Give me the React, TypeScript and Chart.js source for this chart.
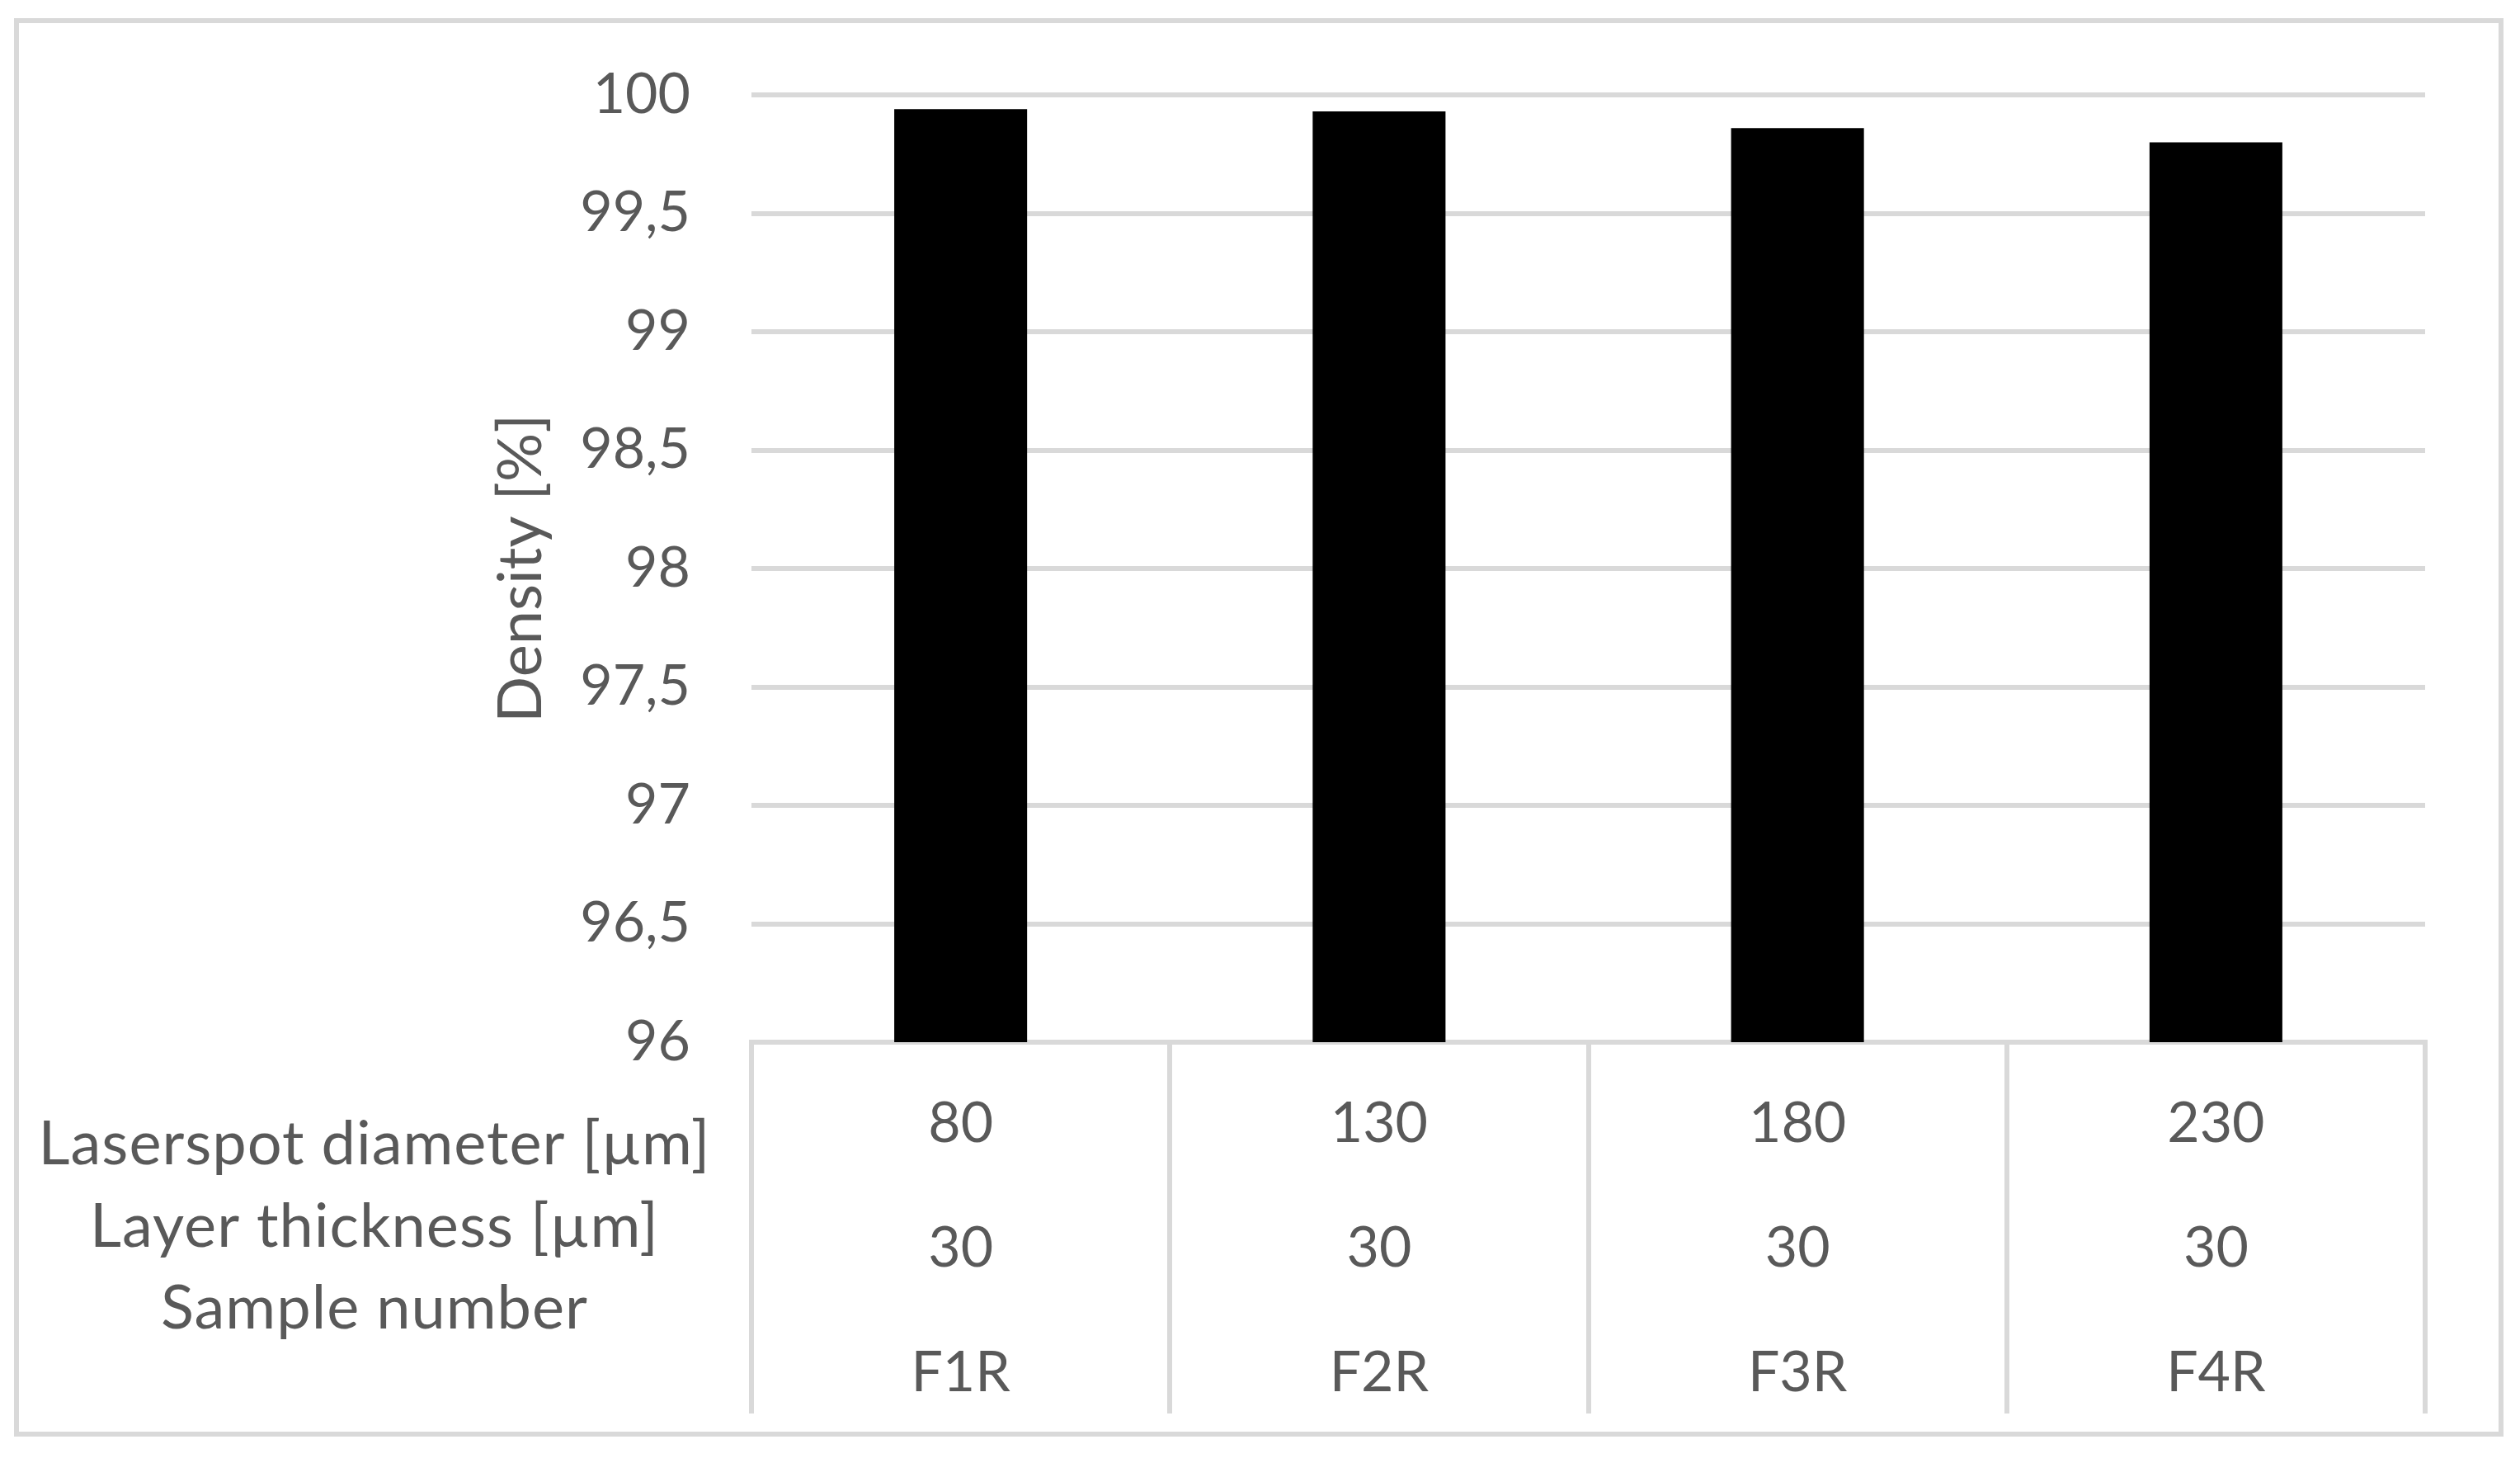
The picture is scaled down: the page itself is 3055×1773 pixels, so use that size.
import React, { useEffect, useRef } from "react";
import { Chart, registerables } from "chart.js";

Chart.register(...registerables);

// ---- data ----
const sampleNumbers = ["F1R", "F2R", "F3R", "F4R"];
const laserspotDiameter = ["80", "130", "180", "230"];
const layerThickness = ["30", "30", "30", "30"];
const density = [99.94, 99.93, 99.86, 99.8];
const rowHeaders = ["Laserspot diameter [µm]", "Layer thickness [µm]", "Sample number"];
const yAxisTitle = "Density [%]";
const yMin = 96;
const yMax = 100;
const yStep = 0.5;

const W = 3055;
const H = 1773;
const FONT = "Lato";
const TEXT = "#595959";
const LINE = "#d9d9d9";

export default function App() {
  const ref = useRef<HTMLCanvasElement | null>(null);

  useEffect(() => {
    let chart: Chart | null = null;
    let cancelled = false;

    const frameAndHeaders = {
      id: "frameAndHeaders",
      beforeDraw(c: any) {
        const ctx = c.ctx;
        ctx.save();
        ctx.fillStyle = "#ffffff";
        ctx.fillRect(0, 0, c.width, c.height);
        ctx.restore();
      },
      afterDraw(c: any) {
        const ctx = c.ctx;
        ctx.save();
        // outer chart frame
        ctx.strokeStyle = LINE;
        ctx.lineWidth = 6;
        ctx.strokeRect(20, 25, 3012, 1713);
        // row headers of the category table
        ctx.fillStyle = TEXT;
        ctx.font = `74px ${FONT}`;
        try {
          (ctx as any).letterSpacing = "1px";
        } catch (e) {}
        ctx.textAlign = "center";
        ctx.textBaseline = "middle";
        const ys = [1387, 1487, 1586];
        rowHeaders.forEach((t, i) => ctx.fillText(t, 454, ys[i]));
        ctx.restore();
      },
    };

    const build = () => {
      if (cancelled || !ref.current) return;
      chart = new Chart(ref.current, {
        type: "bar",
        data: {
          labels: sampleNumbers.map((s, i) => [laserspotDiameter[i], layerThickness[i], s]),
          datasets: [
            {
              label: "Density",
              data: density,
              backgroundColor: "#000000",
              borderWidth: 0,
              categoryPercentage: 1,
              barPercentage: 0.3175,
            },
          ],
        },
        options: {
          responsive: false,
          animation: false,
          devicePixelRatio: 1,
          layout: { padding: { left: 550, top: 115, right: 115, bottom: 0 } },
          plugins: {
            legend: { display: false },
            tooltip: { enabled: false },
            title: { display: false },
          },
          scales: {
            x: {
              type: "category",
              offset: true,
              grid: {
                display: true,
                offset: true,
                drawOnChartArea: false,
                drawTicks: true,
                tickLength: 450,
                color: LINE,
                lineWidth: 6,
              },
              border: { display: true, color: LINE, width: 6 },
              ticks: {
                color: TEXT,
                font: { family: FONT, size: 68, lineHeight: 151 / 68 },
                padding: -426.5,
                maxRotation: 0,
                minRotation: 0,
                autoSkip: false,
              },
              afterFit: (s: any) => {
                s.height = H - 1263;
              },
            },
            y: {
              min: yMin,
              max: yMax,
              grid: { color: LINE, lineWidth: 6, drawTicks: false },
              border: { display: false },
              ticks: {
                stepSize: yStep,
                color: TEXT,
                padding: 74,
                font: { family: FONT, size: 68 },
                callback: (v: any) => String(v).replace(".", ","),
              },
              title: {
                display: true,
                text: yAxisTitle,
                color: TEXT,
                font: { family: FONT, size: 74, lineHeight: 1.2 },
                padding: { top: 37.5, bottom: 0 },
              },
              afterFit: (s: any) => {
                s.width = 911 - 550;
              },
            },
          },
        },
        plugins: [frameAndHeaders],
      });
    };

    const fontsReady = (document as any).fonts?.load
      ? (document as any).fonts.load(`68px ${FONT}`).catch(() => null)
      : Promise.resolve();
    fontsReady.then(build);

    return () => {
      cancelled = true;
      if (chart) chart.destroy();
    };
  }, []);

  return (
    <div style={{ position: "fixed", left: 0, top: 0, width: W, height: H, background: "#fff" }}>
      <canvas ref={ref} width={W} height={H} style={{ width: W, height: H, display: "block" }} />
    </div>
  );
}
